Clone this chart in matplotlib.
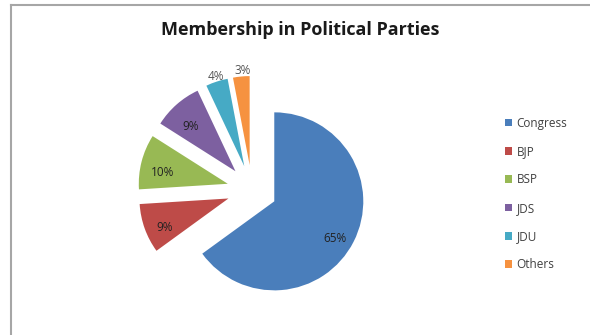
import matplotlib.pyplot as plt
from matplotlib.lines import Line2D

parties = ['Congress', 'BJP', 'BSP', 'JDS', 'JDU', 'Others']
shares = [65, 9, 10, 9, 4, 3]
colors = ['#4a7ebb', '#be4b48', '#98b954', '#7d60a0', '#46aac5', '#f69240']

W, H = 590, 335
fig = plt.figure(figsize=(W / 100, H / 100), dpi=100)
fig.patch.set_facecolor('white')
ax = fig.add_axes([0, 0, 1, 1])

# pie laid out in pixel units so centre / radius follow the picture
cx, cy, r = 252, H - 190, 89
wedges, texts, autotexts = ax.pie(
    shares, colors=colors, startangle=90, counterclock=False,
    explode=[25] * len(shares), center=(cx, cy), radius=r,
    autopct='%1.0f%%', pctdistance=0.76,
    wedgeprops=dict(linewidth=0),
    textprops=dict(fontsize=8.5, family='Open Sans', color='#222222'))
ax.set_xlim(0, W)
ax.set_ylim(0, H)
ax.set_aspect('equal')
ax.axis('off')

# Excel sits the inside labels a little lower
for t in autotexts[:4]:
    x, y = t.get_position()
    t.set_position((x, y - 6))

# small slices get their labels outside, like Excel's best fit
autotexts[4].set_position((216, H - 76))
autotexts[5].set_position((243, H - 70))
for t in autotexts[4:]:
    t.set_color('#555555')

fig.text(300, H - 30, 'Membership in Political Parties', transform=None,
         ha='center', va='center', fontsize=13, fontweight='bold',
         family='Open Sans', color='#1a1a1a')

leg = ax.legend(wedges, parties, loc='upper left',
                bbox_to_anchor=(494 / W, 1 - 106 / H),
                bbox_transform=fig.transFigure, frameon=False,
                prop=dict(family='Open Sans', size=8.5), labelspacing=1.3,
                handlelength=0.65, handleheight=0.65, handletextpad=0.35)
for t in leg.get_texts():
    t.set_color('#404040')

# chart area border (only top and left edges are in view)
fig.add_artist(Line2D([11 / W, 11 / W], [0, 1 - 5 / H], color='#a6a6a6', lw=1.5))
fig.add_artist(Line2D([11 / W, 1], [1 - 5 / H, 1 - 5 / H], color='#a6a6a6', lw=1.5))

fig.savefig('out.png', dpi=100)
